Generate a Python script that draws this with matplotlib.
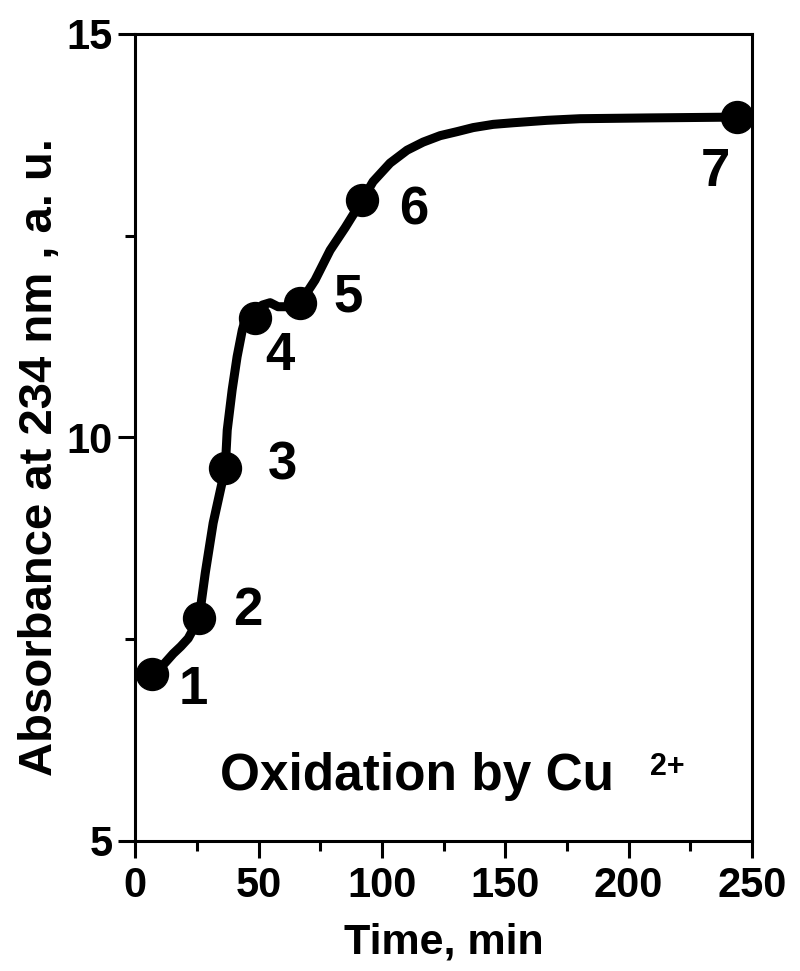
import matplotlib
matplotlib.use("Agg")
import matplotlib.pyplot as plt
from matplotlib.ticker import MultipleLocator

# sample points (markers)
t_points = [6.9, 25.9, 36.5, 48.6, 66.9, 92.0, 243.9]
abs_points = [7.07, 7.76, 9.62, 11.48, 11.67, 12.94, 13.97]
point_labels = ["1", "2", "3", "4", "5", "6", "7"]
# label offsets in pixels (dx right, dy down)
label_dx = [41, 49, 57, 25, 48, 52, -22]
label_dy = [16, -7, -3, 38, -5, 10, 55]

# smooth curve
t_curve = [3.0, 6.9, 10.0, 12.2, 15.4, 18.5, 21.5, 25.9, 28.4, 31.6, 36.5, 37.3, 39.3,
           41.3, 43.4, 44.6, 48.6, 51.5, 54.7, 57.9, 61.6, 66.9, 72.9,
           79.0, 85.1, 92.0, 96.4, 103.3, 110.2, 116.7, 123.6, 130.5, 137.0,
           145.1, 153.2, 166.9, 180.3, 208.7, 243.9]
abs_curve = [7.00, 7.07, 7.14, 7.21, 7.32, 7.41, 7.51, 7.76, 8.32, 8.94, 9.62, 10.09, 10.59,
             11.00, 11.33, 11.46, 11.48, 11.64, 11.67, 11.62, 11.62, 11.67, 11.95,
             12.32, 12.60, 12.94, 13.17, 13.40, 13.56, 13.66, 13.74, 13.79, 13.84,
             13.88, 13.90, 13.93, 13.95, 13.96, 13.97]

plt.rcParams['font.family'] = ['Liberation Sans', 'DejaVu Sans']
plt.rcParams['font.weight'] = 'bold'

fig = plt.figure(figsize=(8, 9.71), dpi=100)
ax = fig.add_axes([0.169, 0.134, 0.771, 0.831])

ax.plot(t_curve, abs_curve, color='black', lw=6.5, solid_joinstyle='round',
        solid_capstyle='round')
ax.plot(t_points, abs_points, 'o', color='black', ms=23)

for x, y, lab, dx, dy in zip(t_points, abs_points, point_labels, label_dx, label_dy):
    ax.annotate(lab, (x, y), xytext=(dx * 0.72, -dy * 0.72), textcoords='offset points',
                ha='center', va='center', fontsize=38, fontweight='bold')

ax.set_xlim(0, 250)
ax.set_ylim(5, 15)
ax.xaxis.set_major_locator(MultipleLocator(50))
ax.xaxis.set_minor_locator(MultipleLocator(25))
ax.yaxis.set_major_locator(MultipleLocator(5))
ax.yaxis.set_minor_locator(MultipleLocator(2.5))

for s in ax.spines.values():
    s.set_linewidth(2.2)
ax.tick_params(which='major', direction='out', length=12, width=2.2, labelsize=30)
ax.tick_params(which='minor', direction='out', length=7, width=2.2)
ax.tick_params(axis='x', pad=6)
ax.tick_params(axis='y', pad=4)

for lab in ax.get_xticklabels() + ax.get_yticklabels():
    lab.set_fontweight('bold')

ax.set_xlabel("Time, min", fontsize=31, fontweight='bold', labelpad=12)
ax.set_ylabel("Absorbance at 234 nm , a. u.", fontsize=34, fontweight='bold')
ax.yaxis.set_label_coords(-0.118, 0.476)

ax.text(0.138, 0.063, "Oxidation by Cu", transform=ax.transAxes, fontsize=37,
        fontweight='bold', ha='left', va='baseline')
ax.text(0.835, 0.082, "2+", transform=ax.transAxes, fontsize=22,
        fontweight='bold', ha='left', va='baseline')

fig.savefig("out.png", dpi=100)
